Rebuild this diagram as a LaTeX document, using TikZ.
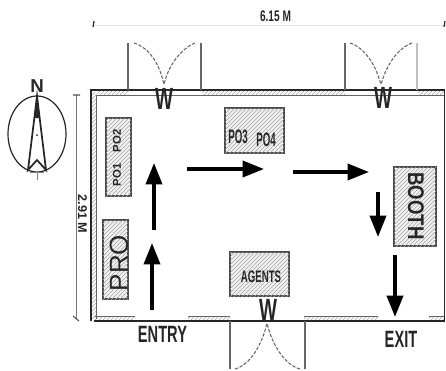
\documentclass[tikz,border=0pt]{standalone}
\usepackage{fontspec}
\setmainfont{Liberation Sans}
\usetikzlibrary{patterns,arrows.meta}
\definecolor{ink}{gray}{0.15}
\tikzset{
  x=0.75pt,y=-0.75pt,
  wall/.style={draw=ink,line width=1pt},
  thinwall/.style={draw=black!60,line width=0.75pt},
  hatchfill/.style={pattern=north east lines,pattern color=black!35},
  booth/.style={draw=black!70,line width=1.2pt,fill=black!5,postaction={hatchfill}},
  swing/.style={draw=black!60,line width=0.8pt,dash pattern=on 2.5pt off 1.2pt},
  jamb/.style={draw=black!60,line width=0.8pt},
  flow/.style={draw=black,line width=2.7pt,-{Triangle[length=16pt,width=12pt]}},
  lbl/.style={inner sep=0pt,text=ink},
  wlbl/.style={lbl,xscale=0.62,font=\fontsize{23}{23}\selectfont\bfseries},
  walk/.style={lbl,xscale=0.62,font=\fontsize{17.7}{17.7}\selectfont\bfseries},
  po/.style={lbl,xscale=0.5,font=\fontsize{14.6}{14.6}\selectfont\bfseries},
}
\begin{document}
\begin{tikzpicture}
\useasboundingbox (0,0) rectangle (446,371);
% hatched wall strips
\foreach \a/\b in {94/135,188/230,304/378,429/444}{\fill[hatchfill] (\a,316) rectangle (\b,320);\draw[thinwall] (\a,316) -- (\b,316);}
\foreach \a/\b in {97/128,202/345,418/444}{\fill[hatchfill] (\a,91) rectangle (\b,95);}
\fill[hatchfill] (92,92) rectangle (96,318);
% walls
\draw[wall] (91,321) -- (91,90) -- (444.5,90) -- (444.5,321) -- (94,321);
\draw[thinwall] (96,319) -- (96,95.5) -- (444,95.5);
% doors
\coordinate (d1l) at (128,43); \coordinate (d1r) at (201,43); \coordinate (d1m) at (164,85);
\coordinate (d2l) at (345,43); \coordinate (d2r) at (417,43); \coordinate (d2m) at (381,85);
\coordinate (d3l) at (230,369); \coordinate (d3r) at (305,369); \coordinate (d3m) at (267,323);
\draw[jamb] (128,90) -- (d1l) (201,90) -- (d1r) (345,90) -- (d2l);
\draw[jamb,draw=black!25] (417,90) -- (d2r);
\draw[jamb] (230,321) -- (d3l) (305,321) -- (d3r);
\draw[swing] (134,43) .. controls (150,48) and (160,65) .. (d1m);
\draw[swing] (195,43) .. controls (182,48) and (168,65) .. (d1m);
\draw[swing] (350,43) .. controls (365,48) and (376,65) .. (d2m);
\draw[swing] (412,43) .. controls (398,48) and (386,65) .. (d2m);
\draw[swing] (235,369) .. controls (250,365) and (262,345) .. (d3m);
\draw[swing] (300,369) .. controls (285,365) and (272,345) .. (d3m);
\node[wlbl] (w1) at (164,98.5) {W};
\node[wlbl] (w2) at (383,97.5) {W};
\node[wlbl] (w3) at (268,310) {W};
% furniture
\draw[booth] (106,118) rectangle (131,196);
\node[lbl,rotate=90,font=\fontsize{8.5}{8.5}\selectfont\bfseries] (po1) at (117,175) {PO1};
\node[lbl,rotate=90,font=\fontsize{8.5}{8.5}\selectfont\bfseries] (po2) at (117,141) {PO2};
\draw[booth] (225,108) rectangle (284,153);
\node[po] (po3) at (238,137) {PO3};
\node[po] (po4) at (266,139.5) {PO4};
\draw[booth] (394,167) rectangle (436,246);
\node[lbl,rotate=-90,xscale=0.82,font=\fontsize{17}{17}\selectfont\bfseries] (booth) at (416,206) {BOOTH};
\draw[booth] (103,220) rectangle (128,299);
\node[lbl,rotate=90,font=\fontsize{19.5}{19.5}\selectfont] (pro) at (119,263) {PRO};
\draw[booth] (230,252) rectangle (289,296);
\node[lbl,xscale=0.58,font=\fontsize{12.5}{12.5}\selectfont\bfseries] (agents) at (261,277) {AGENTS};
% flow arrows
\coordinate (a1s) at (152,310); \coordinate (a1e) at (152,243);
\coordinate (a2s) at (154,230); \coordinate (a2e) at (154,163);
\coordinate (a3s) at (187,169); \coordinate (a3e) at (264,169);
\coordinate (a4s) at (293,172); \coordinate (a4e) at (369,172);
\coordinate (a5s) at (378,192); \coordinate (a5e) at (378,237);
\coordinate (a6s) at (395,255); \coordinate (a6e) at (395,317);
\foreach \s/\e in {a1s/a1e,a2s/a2e,a3s/a3e,a4s/a4e,a5s/a5e,a6s/a6e}{\draw[flow] (\s) -- (\e);}
% labels
\node[walk] (entry) at (162.5,334.5) {ENTRY};
\node[walk] (exit) at (401,339) {EXIT};
% dimensions
\coordinate (dt1) at (93,25); \coordinate (dt2) at (446,25);
\draw[black!10,line width=0.4pt] (dt1) -- (dt2);
\draw[ink,line width=0.9pt] (94,21) -- (93,27);
\draw[ink,line width=0.9pt] (445,21) -- (444,27);
\node[lbl,xscale=0.66,font=\fontsize{11.5}{11.5}\selectfont\bfseries] (width) at (275.5,16) {6.15 M};
\coordinate (dl1) at (76,95); \coordinate (dl2) at (76,318);
\draw[black!55,line width=0.7pt] (dl1) -- (dl2);
\draw[black!70,line width=0.8pt] (73,95) -- (80,95) (73,316) -- (79,321);
\node[lbl,rotate=-90,font=\fontsize{9.5}{9.5}\selectfont\bfseries] (height) at (82.5,214) {2.91 M};
% compass
\draw[ink,line width=0.9pt] (37,134) ellipse[x radius=29,y radius=38];
\node[lbl,font=\fontsize{14}{14}\selectfont\bfseries] (north) at (37,86.5) {N};
\draw[ink,line width=1.3pt,line join=miter] (37,96) -- (28,170) -- (37,160) -- (46,170) -- cycle;
\fill[ink] (37,96) -- (34.5,118) -- (39.5,118) -- cycle;
\draw[black!50,line width=0.6pt] (30,172) -- (44,172) (37,172) -- (37,180);
\fill[ink] (37,135) circle[radius=1];
\end{tikzpicture}
\end{document}
